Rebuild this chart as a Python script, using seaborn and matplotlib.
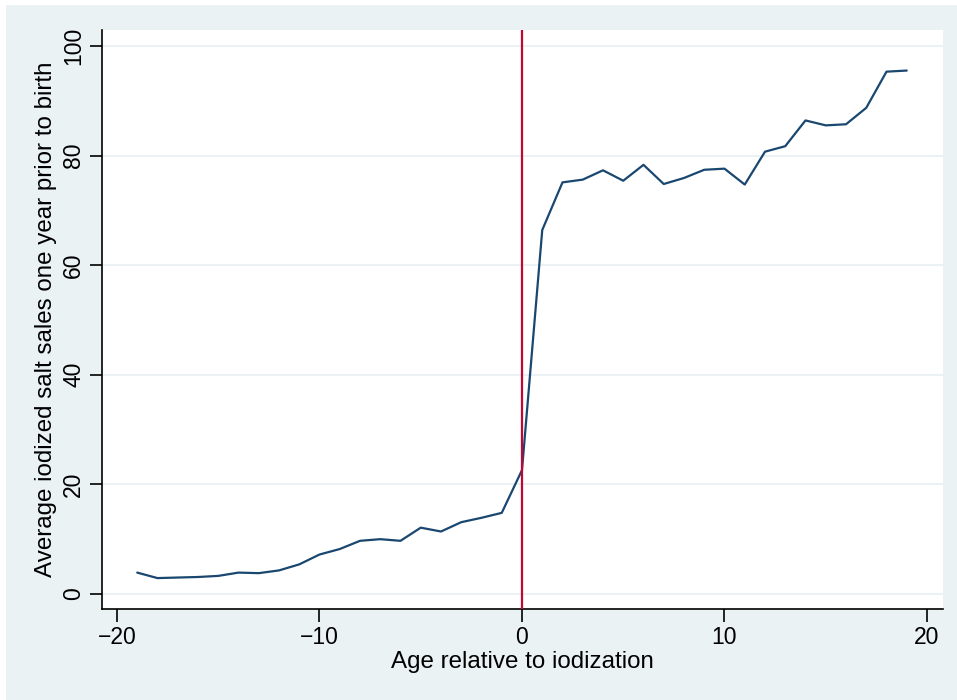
import numpy as np
import pandas as pd
import seaborn as sns
from matplotlib import pyplot as plt
from matplotlib.patches import Rectangle

# age relative to iodization and average iodized salt sales
age = list(range(-19, 20))
sales = [3.9, 2.9, 3.0, 3.1, 3.3, 3.9, 3.8, 4.3, 5.4, 7.2,
         8.2, 9.7, 10.0, 9.7, 12.1, 11.4, 13.1, 13.9, 14.8, 22.6,
         66.4, 75.1, 75.6, 77.3, 75.4, 78.3, 74.8, 75.9, 77.4, 77.6,
         74.7, 80.7, 81.7, 86.4, 85.5, 85.7, 88.7, 95.3, 95.5]
xticks = [-20, -10, 0, 10, 20]
yticks = [0, 20, 40, 60, 80, 100]

df = pd.DataFrame({"age": age, "sales": sales})

sns.set_style("white")
plt.rcParams["font.family"] = ["Liberation Sans", "DejaVu Sans"]
plt.rcParams["text.color"] = "black"
plt.rcParams["axes.labelcolor"] = "black"
plt.rcParams["xtick.color"] = "black"
plt.rcParams["ytick.color"] = "black"

bg = "#EAF2F3"
fig = plt.figure(figsize=(9.57, 7.00), dpi=100, facecolor="white")
fig.patches.append(Rectangle((6 / 957, 0), 1, 1 - 5 / 700, transform=fig.transFigure,
                             facecolor=bg, edgecolor="none", zorder=-1))
ax = fig.add_axes([102 / 957, 91 / 700, 841 / 957, 579 / 700])
ax.set_facecolor("white")

sns.lineplot(data=df, x="age", y="sales", color="#1A476F", linewidth=1.6, ax=ax, zorder=3)
ax.axvline(0, color="#C10534", linewidth=1.6, zorder=4)

ax.set_xlim(-20.74, 20.79)
ax.set_ylim(-2.74, 102.9)
ax.set_xticks(xticks)
ax.set_yticks(yticks)
ax.set_xticklabels(["\u221220", "\u221210", "0", "10", "20"])
ax.set_yticklabels([str(v) for v in yticks], rotation=90, va="center")
ax.grid(axis="y", color=bg, linewidth=1.5)
ax.set_axisbelow(True)

for s in ["top", "right"]:
    ax.spines[s].set_visible(False)
for s in ["left", "bottom"]:
    ax.spines[s].set_color("black")
    ax.spines[s].set_linewidth(1.2)

ax.tick_params(axis="both", direction="out", length=9, width=1.2, colors="black",
               labelsize=16.5, pad=3, bottom=True, left=True)
ax.set_xlabel("Age relative to iodization", fontsize=17.4, labelpad=2, color="black")
ax.set_ylabel("Average iodized salt sales one year prior to birth", fontsize=17.4,
              labelpad=4, color="black")

fig.savefig("out.png", dpi=100, facecolor=fig.get_facecolor())
